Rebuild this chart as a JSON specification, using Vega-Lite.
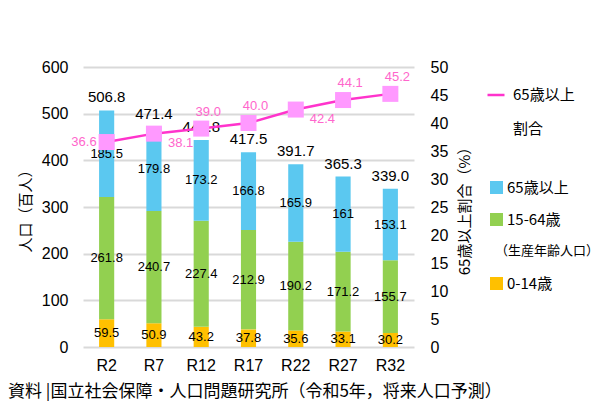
{
  "$schema": "https://vega.github.io/schema/vega-lite/v6.json",
  "width": 331,
  "height": 280,
  "autosize": "none",
  "padding": {"left": 83, "top": 67, "right": 186, "bottom": 54},
  "config": {
    "font": "Noto Sans CJK JP",
    "view": {"stroke": null},
    "axis": {"domain": false, "ticks": false, "tickSize": 0, "labelColor": "#000", "titleColor": "#000", "labelFont": "Liberation Sans", "labelFontSize": 16, "titleFontWeight": "normal"},
    "legend": {"padding": 0}
  },
  "title": {
    "text": "資料 |国立社会保障・人口問題研究所（令和5年，将来人口予測）",
    "orient": "bottom",
    "anchor": "start",
    "frame": "group",
    "dx": -75,
    "offset": 11,
    "fontSize": 17,
    "fontWeight": "normal",
    "color": "#000",
    "font": "Noto Sans CJK JP"
  },
  "datasets": {
    "pop": [
      {"year": "R2", "group": "0-14歳", "value": 59.5},
      {"year": "R2", "group": "15-64歳", "value": 261.8},
      {"year": "R2", "group": "65歳以上", "value": 185.5},
      {"year": "R7", "group": "0-14歳", "value": 50.9},
      {"year": "R7", "group": "15-64歳", "value": 240.7},
      {"year": "R7", "group": "65歳以上", "value": 179.8},
      {"year": "R12", "group": "0-14歳", "value": 43.2},
      {"year": "R12", "group": "15-64歳", "value": 227.4},
      {"year": "R12", "group": "65歳以上", "value": 173.2},
      {"year": "R17", "group": "0-14歳", "value": 37.8},
      {"year": "R17", "group": "15-64歳", "value": 212.9},
      {"year": "R17", "group": "65歳以上", "value": 166.8},
      {"year": "R22", "group": "0-14歳", "value": 35.6},
      {"year": "R22", "group": "15-64歳", "value": 190.2},
      {"year": "R22", "group": "65歳以上", "value": 165.9},
      {"year": "R27", "group": "0-14歳", "value": 33.1},
      {"year": "R27", "group": "15-64歳", "value": 171.2},
      {"year": "R27", "group": "65歳以上", "value": 161},
      {"year": "R32", "group": "0-14歳", "value": 30.2},
      {"year": "R32", "group": "15-64歳", "value": 155.7},
      {"year": "R32", "group": "65歳以上", "value": 153.1}
    ],
    "summary": [
      {"year": "R2", "total": "506.8", "totalValue": 506.8, "ratio": 36.6, "ratioLabel": "36.6"},
      {"year": "R7", "total": "471.4", "totalValue": 471.4, "ratio": 38.1, "ratioLabel": "38.1"},
      {"year": "R12", "total": "443.8", "totalValue": 443.8, "ratio": 39.0, "ratioLabel": "39.0"},
      {"year": "R17", "total": "417.5", "totalValue": 417.5, "ratio": 40.0, "ratioLabel": "40.0"},
      {"year": "R22", "total": "391.7", "totalValue": 391.7, "ratio": 42.4, "ratioLabel": "42.4"},
      {"year": "R27", "total": "365.3", "totalValue": 365.3, "ratio": 44.1, "ratioLabel": "44.1"},
      {"year": "R32", "total": "339.0", "totalValue": 339.0, "ratio": 45.2, "ratioLabel": "45.2"}
    ]
  },
  "encoding": {
    "x": {
      "field": "year",
      "type": "nominal",
      "sort": ["R2", "R7", "R12", "R17", "R22", "R27", "R32"],
      "scale": {"paddingInner": 0.68, "paddingOuter": 0.34},
      "axis": {"title": null, "labelAngle": 0, "labelPadding": 10, "labelFontSize": 16}
    }
  },
  "layer": [
    {
      "layer": [
        {
          "data": {"name": "pop"},
          "mark": {"type": "bar"},
          "encoding": {
            "y": {
              "field": "value",
              "type": "quantitative",
              "stack": "zero",
              "scale": {"domain": [0, 600], "nice": false},
              "axis": {
                "title": "人口（百人）",
                "titleFontSize": 15,
                "titlePadding": 8,
                "values": [0, 100, 200, 300, 400, 500, 600],
                "labelPadding": 15,
                "grid": true,
                "gridColor": "#D9D9D9",
                "gridWidth": 2
              }
            },
            "color": {
              "field": "group",
              "type": "nominal",
              "scale": {
                "domain": ["65歳以上", "15-64歳", " ", "0-14歳"],
                "range": ["#5BC8F0", "#92D050", "transparent", "#FFC000"]
              },
              "legend": {
                "title": null,
                "orient": "none",
                "legendX": 406,
                "legendY": 113,
                "symbolType": "square",
                "symbolSize": 169,
                "symbolStrokeWidth": 0,
                "labelFontSize": 15,
                "labelOffset": 3,
                "rowPadding": 16,
                "labelColor": "#000",
                "labelFont": "Noto Sans CJK JP"
              }
            },
            "order": {"field": "group", "sort": "ascending"}
          }
        },
        {
          "data": {"name": "pop"},
          "mark": {"type": "text", "fontSize": 13, "font": "Liberation Sans", "color": "#000", "baseline": "middle"},
          "encoding": {
            "y": {"field": "value", "type": "quantitative", "stack": "zero", "bandPosition": 0.5},
            "text": {"field": "value", "type": "quantitative", "format": ".1~f"},
            "order": {"field": "group", "sort": "ascending"},
            "detail": {"field": "group"},
            "opacity": {
              "datum": "（生産年齢人口）",
              "type": "ordinal",
              "scale": {"domain": ["（生産年齢人口）"], "range": [1, 1]},
              "legend": {
                "title": null,
                "orient": "none",
                "legendX": 399,
                "legendY": 177,
                "symbolSize": 0,
                "symbolOpacity": 0,
                "labelOffset": 0,
                "labelFontSize": 13,
                "labelColor": "#000",
                "labelFont": "Noto Sans CJK JP"
              }
            }
          }
        },
        {
          "data": {"name": "summary"},
          "mark": {"type": "text", "fontSize": 15, "font": "Liberation Sans", "color": "#000", "baseline": "bottom", "dy": -5},
          "encoding": {
            "y": {"field": "totalValue", "type": "quantitative"},
            "text": {"field": "total"}
          }
        }
      ]
    },
    {
      "data": {"name": "summary"},
      "encoding": {
        "y": {
          "field": "ratio",
          "type": "quantitative",
          "scale": {"domain": [0, 50], "nice": false},
          "axis": {
            "orient": "right",
            "title": "65歳以上割合（%）",
            "titleFontSize": 15,
            "titleAngle": 270,
            "titleBaseline": "top",
            "titlePadding": 10,
            "values": [0, 5, 10, 15, 20, 25, 30, 35, 40, 45, 50],
            "labelPadding": 16,
            "grid": false
          }
        }
      },
      "layer": [
        {
          "mark": {"type": "line", "strokeWidth": 2.5},
          "encoding": {
            "stroke": {
              "datum": "65歳以上",
              "type": "nominal",
              "scale": {"domain": ["65歳以上", "割合"], "range": ["#FF33CC", "transparent"]},
              "legend": {
                "title": null,
                "orient": "none",
                "legendX": 403,
                "legendY": 18,
                "symbolType": "stroke",
                "symbolSize": 289,
                "symbolStrokeWidth": 2.5,
                "labelFontSize": 15,
                "labelOffset": 7,
                "rowPadding": 16,
                "labelColor": "#000",
                "labelFont": "Noto Sans CJK JP"
              }
            }
          }
        },
        {
          "mark": {"type": "point", "shape": "square", "filled": true, "size": 256, "color": "#FF99FF", "opacity": 1}
        },
        {
          "transform": [{"filter": "datum.year == 'R2'"}],
          "mark": {"type": "text", "fontSize": 13, "font": "Liberation Sans", "color": "#FF66CC", "align": "right", "baseline": "middle", "dx": -10},
          "encoding": {"text": {"field": "ratioLabel"}}
        },
        {
          "transform": [{"filter": "datum.year == 'R7' || datum.year == 'R22'"}],
          "mark": {"type": "text", "fontSize": 13, "font": "Liberation Sans", "color": "#FF66CC", "align": "left", "baseline": "middle", "dx": 14, "dy": 9},
          "encoding": {"text": {"field": "ratioLabel"}}
        },
        {
          "transform": [{"filter": "datum.year != 'R2' && datum.year != 'R7' && datum.year != 'R22'"}],
          "mark": {"type": "text", "fontSize": 13, "font": "Liberation Sans", "color": "#FF66CC", "align": "center", "baseline": "middle", "dx": 7, "dy": -17},
          "encoding": {"text": {"field": "ratioLabel"}}
        }
      ]
    }
  ],
  "resolve": {"scale": {"y": "independent"}}
}
